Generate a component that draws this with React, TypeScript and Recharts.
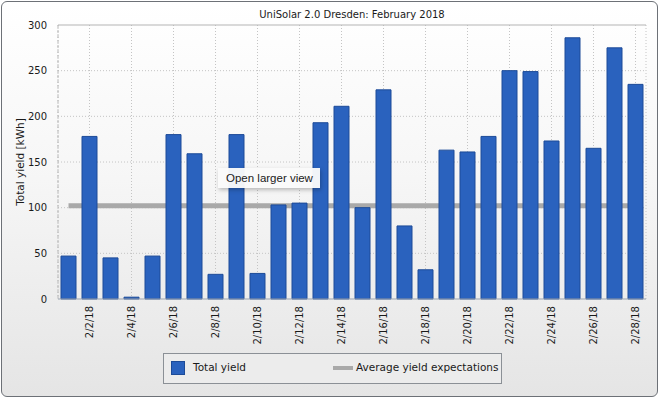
import React from 'react';
import {
  ComposedChart,
  Bar,
  Line,
  XAxis,
  YAxis,
  CartesianGrid,
  ReferenceLine,
  Legend,
} from 'recharts';

// Daily yield for February 2018
const days: string[] = [
  '2/1/18', '2/2/18', '2/3/18', '2/4/18', '2/5/18', '2/6/18', '2/7/18',
  '2/8/18', '2/9/18', '2/10/18', '2/11/18', '2/12/18', '2/13/18', '2/14/18',
  '2/15/18', '2/16/18', '2/17/18', '2/18/18', '2/19/18', '2/20/18', '2/21/18',
  '2/22/18', '2/23/18', '2/24/18', '2/25/18', '2/26/18', '2/27/18', '2/28/18',
];

const totalYield: number[] = [
  47, 178, 45, 2, 47, 180, 159, 27, 180, 28, 103, 105, 193, 211,
  100, 229, 80, 32, 163, 161, 178, 250, 249, 173, 286, 165, 275, 235,
];

const averageExpectation = 102;

const labeledDays: string[] = [
  '2/2/18', '2/4/18', '2/6/18', '2/8/18', '2/10/18', '2/12/18', '2/14/18',
  '2/16/18', '2/18/18', '2/20/18', '2/22/18', '2/24/18', '2/26/18', '2/28/18',
];

const yTicks: number[] = [0, 50, 100, 150, 200, 250, 300];

const data = days.map((day, i) => ({
  day,
  yield: totalYield[i],
  expected: averageExpectation,
}));

const FONT = '"DejaVu Sans", Verdana, sans-serif';
const BAR_FILL = '#2a62be';
const BAR_STROKE = '#1d4b98';
const LINE_GRAY = '#a9a9a9';

const DayTick = (props: any) => {
  const { x, y, payload } = props;
  return (
    <text
      transform={`translate(${x},${y - 1}) rotate(-90)`}
      textAnchor="end"
      dy="0.36em"
      fontSize={10}
      fontFamily={FONT}
      fill="#1a1a1a"
    >
      {payload.value}
    </text>
  );
};

const YieldLegend = () => (
  <div
    style={{
      boxSizing: 'border-box',
      width: 339,
      height: 31,
      border: '1px solid #8b9096',
      background: '#ececec',
      position: 'relative',
      fontFamily: FONT,
      fontSize: 10.5,
      color: '#1a1a1a',
    }}
  >
    <div
      style={{
        position: 'absolute',
        left: 7,
        top: 7,
        width: 14,
        height: 14,
        boxSizing: 'border-box',
        background: BAR_FILL,
        border: `1px solid ${BAR_STROKE}`,
      }}
    />
    <span style={{ position: 'absolute', left: 29, top: 7 }}>Total yield</span>
    <div
      style={{
        position: 'absolute',
        left: 169,
        top: 12,
        width: 20,
        height: 4,
        background: LINE_GRAY,
      }}
    />
    <span style={{ position: 'absolute', left: 192, top: 7 }}>
      Average yield expectations
    </span>
  </div>
);

export default function App() {
  return (
    <div
      style={{
        position: 'absolute',
        left: 0,
        top: 0,
        width: 660,
        height: 399,
        overflow: 'hidden',
      }}
    >
      <div
        style={{
          position: 'absolute',
          left: 1,
          top: 1,
          width: 657,
          height: 396,
          boxSizing: 'border-box',
          border: '1px solid #6d7177',
          borderRadius: 6,
          background: 'linear-gradient(#ffffff 0%, #f6f6f6 45%, #e5e5e5 100%)',
        }}
      />
      <div
        style={{
          position: 'absolute',
          left: 58,
          width: 588,
          top: 9,
          textAlign: 'center',
          fontFamily: FONT,
          fontSize: 10,
          color: '#1a1a1a',
        }}
      >
        UniSolar 2.0 Dresden: February 2018
      </div>
      <div style={{ position: 'absolute', left: 0, top: 0 }}>
        <ComposedChart
          width={660}
          height={399}
          data={data}
          margin={{ top: 25, right: 14, bottom: 19, left: 0 }}
          barCategoryGap={5}
        >
          <CartesianGrid
            stroke="#c4c4c4"
            strokeDasharray="1 2"
            horizontalValues={[50, 100, 150, 200, 250]}
          />
          <XAxis
            dataKey="day"
            ticks={labeledDays}
            interval={0}
            tick={<DayTick />}
            tickLine={false}
            axisLine={{ stroke: '#9aa3b0' }}
            height={50}
          />
          <YAxis
            domain={[0, 300]}
            ticks={yTicks}
            interval={0}
            tickLine={false}
            axisLine={{ stroke: '#b8b8b8', strokeDasharray: '3 2' }}
            tickMargin={5}
            width={58}
            tick={{ fontSize: 10, fontFamily: FONT, fill: '#1a1a1a' }}
            label={(p: any) => {
              const vb = p.viewBox || {};
              const cx = 20;
              const cy = (vb.y ?? 25) + (vb.height ?? 274) / 2;
              return (
                <text
                  transform={`translate(${cx},${cy}) rotate(-90)`}
                  textAnchor="middle"
                  dy="0.35em"
                  fontSize={10.5}
                  fontFamily={FONT}
                  fill="#1a1a1a"
                >
                  Total yield [kWh]
                </text>
              );
            }}
          />
          <YAxis
            yAxisId="frame"
            orientation="right"
            domain={[0, 300]}
            width={0}
            tick={false}
            tickLine={false}
            axisLine={{ stroke: '#c4c4c4', strokeDasharray: '3 2' }}
          />
          <ReferenceLine y={300} stroke="#b4b4b4" ifOverflow="extendDomain" />
          <Line
            dataKey="expected"
            stroke={LINE_GRAY}
            strokeWidth={5}
            dot={false}
            activeDot={false}
            isAnimationActive={false}
            type="linear"
            zIndex={250}
          />
          <Bar
            dataKey="yield"
            fill={BAR_FILL}
            stroke={BAR_STROKE}
            strokeWidth={1}
            barSize={15}
            isAnimationActive={false}
            zIndex={300}
          />
          <Legend
            content={() => <YieldLegend />}
            wrapperStyle={{ position: 'absolute', left: 163, top: 353, width: 339, height: 31 }}
          />
        </ComposedChart>
      </div>
      <div
        style={{
          position: 'absolute',
          left: 218,
          top: 168,
          width: 102,
          height: 20,
          boxSizing: 'border-box',
          background: 'rgba(250,250,250,0.96)',
          boxShadow: '1px 2px 4px rgba(0,0,0,0.25)',
          fontFamily: '"Liberation Sans", Arial, sans-serif',
          fontSize: 11.5,
          lineHeight: '20px',
          paddingLeft: 8,
          color: '#1a1a1a',
        }}
      >
        Open larger view
      </div>
    </div>
  );
}
